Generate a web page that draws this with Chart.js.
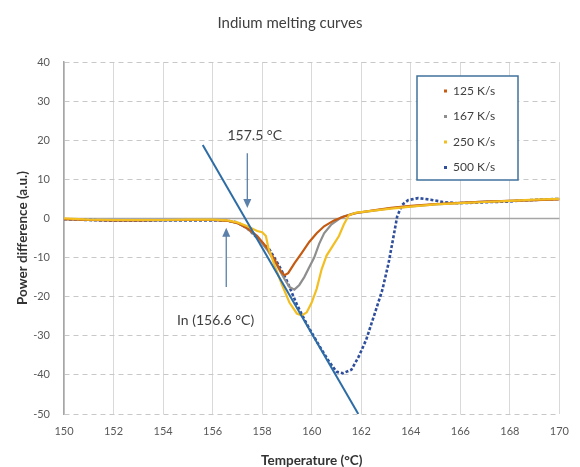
<!DOCTYPE html>
<html>
<head>
<meta charset="utf-8">
<script src="https://cdn.jsdelivr.net/npm/chart.js@4"></script>
<style>
  html, body { margin: 0; padding: 0; background: #fff; }
</style>
</head>
<body>
<canvas id="chart" width="580" height="467"></canvas>
<script>
// values
const seriesNames = ['125 K/s', '167 K/s', '250 K/s', '500 K/s'];

const temp125 = [150, 151, 152, 153, 154, 155, 156, 156.6, 157, 157.4, 157.8, 158.2, 158.5, 158.75, 158.9, 159.05, 159.3, 159.6, 159.9, 160.2, 160.5, 160.9, 161.3, 161.8, 162.5, 163.2, 164, 165, 166, 167, 168, 169, 170];
const power125 = [-0.2, -0.4, -0.5, -0.5, -0.4, -0.4, -0.4, -0.6, -1.2, -2.5, -4.5, -7.5, -10.5, -13.5, -14.5, -14, -11.5, -8.8, -6, -3.8, -2, -0.5, 0.5, 1.4, 2.1, 2.7, 3.2, 3.7, 4, 4.3, 4.5, 4.7, 4.9];

const temp167 = [150, 151, 152, 153, 154, 155, 156, 156.6, 157, 157.4, 157.8, 158.2, 158.6, 158.9, 159.1, 159.3, 159.5, 159.7, 159.9, 160.1, 160.3, 160.5, 160.8, 161.2, 161.7, 162.5, 163.2, 164, 165, 166, 167, 168, 169, 170];
const power167 = [-0.2, -0.4, -0.5, -0.5, -0.5, -0.4, -0.4, -0.6, -1.2, -2.6, -4.8, -8, -12, -15.5, -17.5, -18.2, -17, -15, -12.5, -10, -6.5, -3.8, -1.5, 0.3, 1.3, 2, 2.6, 3.1, 3.6, 4, 4.3, 4.5, 4.7, 5];

const temp250 = [150, 151, 152, 153, 154, 155, 156, 156.6, 157, 157.4, 157.8, 158, 158.15, 158.25, 158.5, 158.8, 159.1, 159.4, 159.6, 159.8, 160, 160.2, 160.4, 160.6, 160.9, 161.1, 161.3, 161.5, 161.8, 162.5, 163.2, 164, 165, 166, 167, 168, 169, 170];
const power250 = [0, -0.3, -0.4, -0.4, -0.4, -0.3, -0.3, -0.5, -1, -2, -3.2, -3.5, -4.5, -7.5, -12, -17, -21.5, -24.3, -24.8, -24, -21.5, -18, -13, -9.5, -6.5, -4.5, -1.5, 0.8, 1.5, 2, 2.5, 3, 3.6, 3.9, 4.2, 4.5, 4.8, 5];

const temp500 = [150, 151, 152, 153, 154, 155, 156, 156.6, 157, 157.4, 157.8, 158.3, 158.7, 159, 159.4, 159.8, 160.3, 160.7, 161, 161.25, 161.6, 161.9, 162.2, 162.55, 162.85, 163.1, 163.3, 163.45, 163.65, 163.9, 164.3, 164.8, 165.3, 165.9, 166.5, 167.2, 167.9, 168.5, 169.2, 170];
const power500 = [-0.2, -0.4, -0.6, -0.6, -0.5, -0.5, -0.5, -0.6, -1, -2.5, -5, -8, -12.3, -16, -22, -27, -32.5, -36.6, -39.2, -39.6, -38.7, -35.3, -31, -24.2, -18.3, -11.5, -4.7, 0.5, 3.5, 4.7, 5.2, 4.8, 4.2, 3.9, 4, 4.2, 4.3, 4.6, 4.8, 5];

const tangentTemp = [155.6, 161.88];
const tangentPower = [18.8, -50];

const xTicks = [150, 152, 154, 156, 158, 160, 162, 164, 166, 168, 170];
const yTicks = [40, 30, 20, 10, 0, -10, -20, -30, -40, -50];

// annotation arrows in data units: x, tail y, head y, label, label x, label y
const onsetArrow = { x: 157.4, from: 16.7, to: 2.7, label: '157.5 °C', lx: 157.7, ly: 21.2 };
const inArrow = { x: 156.55, from: -17.5, to: -2.4, label: 'In (156.6 °C)', lx: 156.12, ly: -26 };

const colors = ['#C55A11', '#8E8E8E', '#F2BE22', '#2F4E9C'];
const tangentColor = '#2D6CA5';
const arrowColor = '#5B80A9';

const toPoints = (xs, ys) => xs.map((x, i) => ({ x, y: ys[i] }));

function curve(label, xs, ys, color, dash) {
  return {
    label, data: toPoints(xs, ys), borderColor: color, backgroundColor: color,
    borderWidth: dash ? 2.6 : 2.2, borderDash: dash || [], borderCapStyle: 'butt',
    pointRadius: 0, showLine: true, tension: 0
  };
}

const extras = {
  id: 'extras',
  beforeDatasetsDraw(chart) {
    const { ctx, chartArea: a, scales: { y } } = chart;
    const y0 = y.getPixelForValue(0);
    ctx.save();
    ctx.strokeStyle = '#A6A6A6';
    ctx.lineWidth = 1.5;
    ctx.beginPath();
    ctx.moveTo(a.left, y0); ctx.lineTo(a.right, y0);
    ctx.stroke();
    ctx.restore();
  },
  afterDatasetsDraw(chart) {
    const { ctx, chartArea: a, scales: { x, y } } = chart;
    ctx.save();
    // title
    ctx.fillStyle = '#404040';
    ctx.font = '15px Lato';
    ctx.textAlign = 'center';
    ctx.textBaseline = 'middle';
    ctx.fillText('Indium melting curves', 290, 23);

    // arrows
    [onsetArrow, inArrow].forEach(ar => {
      const px = x.getPixelForValue(ar.x);
      const p1 = y.getPixelForValue(ar.from);
      const p2 = y.getPixelForValue(ar.to);
      const dir = p2 > p1 ? 1 : -1;
      ctx.strokeStyle = arrowColor;
      ctx.fillStyle = arrowColor;
      ctx.lineWidth = 1.3;
      ctx.beginPath();
      ctx.moveTo(px, p1); ctx.lineTo(px, p2 - dir * 8);
      ctx.stroke();
      ctx.beginPath();
      ctx.moveTo(px, p2);
      ctx.lineTo(px - 4, p2 - dir * 9);
      ctx.lineTo(px + 4, p2 - dir * 9);
      ctx.closePath();
      ctx.fill();
      ctx.fillStyle = '#404040';
      ctx.font = '14px Lato';
      ctx.fillText(ar.label, x.getPixelForValue(ar.lx), y.getPixelForValue(ar.ly));
    });

    // legend box
    const bx = a.left + 353, by = a.top + 14, bw = 101, bh = 104;
    ctx.fillStyle = '#fff';
    ctx.fillRect(bx, by, bw, bh);
    ctx.strokeStyle = '#41719C';
    ctx.lineWidth = 1.5;
    ctx.strokeRect(bx, by, bw, bh);
    ctx.font = '12px Lato';
    ctx.textAlign = 'left';
    seriesNames.forEach((name, i) => {
      const cy = by + 15 + i * 25.5;
      ctx.fillStyle = colors[i];
      ctx.fillRect(bx + 27, cy - 1.5, 3, 3);
      ctx.fillStyle = '#404040';
      ctx.fillText(name, bx + 36, cy);
    });
    ctx.restore();
  }
};

new Chart(document.getElementById('chart'), {
  type: 'scatter',
  data: {
    datasets: [
      { label: 'tangent', data: toPoints(tangentTemp, tangentPower), borderColor: tangentColor,
        borderWidth: 2, pointRadius: 0, showLine: true },
      curve(seriesNames[2], temp250, power250, colors[2]),
      curve(seriesNames[0], temp125, power125, colors[0]),
      curve(seriesNames[1], temp167, power167, colors[1]),
      curve(seriesNames[3], temp500, power500, colors[3], [3, 2])
    ]
  },
  options: {
    responsive: false,
    animation: false,
    layout: { padding: { top: 62, right: 13, left: 0, bottom: 0 } },
    plugins: { legend: { display: false }, tooltip: { enabled: false }, title: { display: false } },
    scales: {
      x: {
        type: 'linear', min: 150, max: 170,
        afterBuildTicks: s => { s.ticks = xTicks.map(v => ({ value: v })); },
        afterFit: s => { s.height = 53; },
        grid: { color: '#D9D9D9', lineWidth: 1, drawTicks: false },
        border: { display: false },
        ticks: { padding: 11, color: '#595959', font: { family: 'Lato', size: 11 }, maxRotation: 0 },
        title: { display: true, text: 'Temperature (°C)', color: '#333333',
                 font: { family: 'Lato', size: 13.5, weight: 'bold' }, padding: { top: 0, bottom: -2 } }
      },
      y: {
        min: -50, max: 40,
        afterBuildTicks: s => { s.ticks = yTicks.map(v => ({ value: v })); },
        afterFit: s => { s.width = 64; },
        grid: { color: '#C8C8C8', lineWidth: 1, drawTicks: false },
        border: { display: true, color: '#A6A6A6', width: 1.5, dash: [5, 4] },
        ticks: { padding: 14, color: '#595959', font: { family: 'Lato', size: 11 } },
        title: { display: true, text: 'Power difference (a.u.)', color: '#333333',
                 font: { family: 'Lato', size: 13.5, weight: 'bold' }, padding: { top: 15, bottom: 0 } }
      }
    }
  },
  plugins: [extras]
});
</script>
</body>
</html>
